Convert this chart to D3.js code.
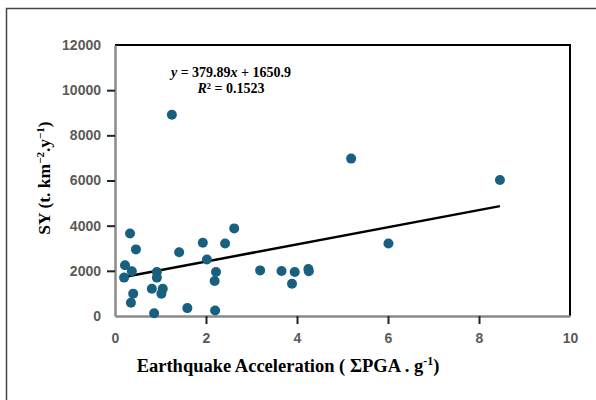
<!DOCTYPE html>
<html>
<head>
<meta charset="utf-8">
<title>SY vs Earthquake Acceleration</title>
<style type="text/css">
	body { margin: 0; background: #fff; }
	.tick text { font-family: Arial, "Liberation Sans", sans-serif; font-weight: bold; font-size: 14px; fill: #5a5a5a; }
	.lbl { font-family: "Times New Roman", "Liberation Serif", serif; font-weight: bold; fill: #000; }
</style>
<script src="https://cdn.jsdelivr.net/npm/d3@7/dist/d3.min.js"></script>
</head>
<body>
<div id="chart"></div>
<script type="text/javascript">
// values
var pgaValues = [0.33, 0.46, 0.22, 0.37, 0.20, 0.92, 0.92, 0.81, 1.05, 1.02, 0.40, 0.35, 0.86,
	1.41, 1.59, 1.93, 2.02, 2.22, 2.19, 2.20, 2.42, 2.62, 3.19, 3.66, 3.95, 3.89, 4.25, 4.26,
	1.25, 5.19, 6.01, 8.46];
var syValues = [3650, 2950, 2250, 1980, 1700, 1950, 1700, 1210, 1210, 990, 990, 590, 120,
	2820, 350, 3240, 2500, 1950, 1550, 240, 3210, 3880, 2020, 1990, 1950, 1430, 2080, 1980,
	8910, 6970, 3210, 6020];
var xTicks = [0, 2, 4, 6, 8, 10];
var yTicks = [0, 2000, 4000, 6000, 8000, 10000, 12000];
var fitSlope = 379.89, fitIntercept = 1650.9;

var W = 596, H = 400;
var margin = {left: 115, top: 45, right: 26, bottom: 84};

var svg = d3.select('#chart').append('svg')
		.attr('width', W)
		.attr('height', H);

// outer frame (runs off the right and bottom of the picture)
svg.append('rect')
		.attr('x', 6.5).attr('y', 8.5)
		.attr('width', W).attr('height', H)
		.attr('fill', 'none')
		.attr('stroke', '#444')
		.attr('stroke-width', 1.5);

var x = d3.scaleLinear().domain([0, 10]).range([margin.left, W - margin.right]);
var y = d3.scaleLinear().domain([0, 12000]).range([H - margin.bottom, margin.top]);

// top and right box edges
svg.append('path')
		.attr('d', 'M' + x(0) + ',' + y(12000) + 'H' + x(10) + 'V' + y(0))
		.attr('fill', 'none')
		.attr('stroke', '#000')
		.attr('stroke-width', 2);

var yAxis = svg.append('g')
		.attr('transform', 'translate(' + x(0) + ',0)')
		.call(d3.axisLeft(y).tickValues(yTicks).tickFormat(d3.format('d'))
			.tickSize(8).tickPadding(6).tickSizeOuter(0));
var xAxis = svg.append('g')
		.attr('transform', 'translate(0,' + y(0) + ')')
		.call(d3.axisBottom(x).tickValues(xTicks).tickFormat(d3.format('d'))
			.tickSize(8).tickPadding(6).tickSizeOuter(0));

[yAxis, xAxis].forEach(function(a){
	a.select('.domain').attr('stroke', '#8a8a8a').attr('stroke-width', 2.5);
	a.selectAll('.tick line').attr('stroke', '#222').attr('stroke-width', 2);
});
// first/last ticks sit on the box, no tick mark drawn there
xAxis.selectAll('.tick line').filter(function(d){ return d === 0 || d === 10; }).remove();
yAxis.selectAll('.tick line').filter(function(d){ return d === 0 || d === 12000; }).remove();
xAxis.selectAll('.tick text').attr('dy', '0.9em');

// regression line over the data range
var xExt = d3.extent(pgaValues);
svg.append('line')
		.attr('x1', x(xExt[0])).attr('y1', y(fitSlope * xExt[0] + fitIntercept))
		.attr('x2', x(xExt[1])).attr('y2', y(fitSlope * xExt[1] + fitIntercept))
		.attr('stroke', '#000')
		.attr('stroke-width', 2.5);

var pts = pgaValues.map(function(v, i){ return {x: v, y: syValues[i]}; });
svg.selectAll('.pt')
		.data(pts)
	.enter().append('circle')
		.attr('class', 'pt')
		.attr('cx', function(d){ return x(d.x); })
		.attr('cy', function(d){ return y(d.y); })
		.attr('r', 5)
		.attr('fill', '#17607f');

// equation text
var eq = svg.append('text').attr('class', 'lbl')
		.attr('x', 231).attr('y', 77)
		.attr('text-anchor', 'middle')
		.style('font-size', '14px');
eq.append('tspan').attr('font-style', 'italic').text('y');
eq.append('tspan').text(' = 379.89');
eq.append('tspan').attr('font-style', 'italic').text('x');
eq.append('tspan').text(' + 1650.9');

var r2 = svg.append('text').attr('class', 'lbl')
		.attr('x', 231).attr('y', 93)
		.attr('text-anchor', 'middle')
		.style('font-size', '14px');
r2.append('tspan').attr('font-style', 'italic').text('R');
r2.append('tspan').text('² = 0.1523');

// axis titles
var xt = svg.append('text').attr('class', 'lbl')
		.attr('x', 288).attr('y', 372)
		.attr('text-anchor', 'middle')
		.style('font-size', '18.5px');
xt.append('tspan').text('Earthquake Acceleration ( ΣPGA . g');
xt.append('tspan').attr('dy', -7).style('font-size', '12px').text('-1');
xt.append('tspan').attr('dy', 7).text(')');

var yt = svg.append('text').attr('class', 'lbl')
		.attr('transform', 'translate(50,178) rotate(-90)')
		.attr('text-anchor', 'middle')
		.style('font-size', '17.5px');
yt.append('tspan').text('SY (t. km');
yt.append('tspan').attr('dy', -6).style('font-size', '11px').text('−2');
yt.append('tspan').attr('dy', 6).text('.y');
yt.append('tspan').attr('dy', -6).style('font-size', '11px').text('−1');
yt.append('tspan').attr('dy', 6).text(')');
</script>
</body>
</html>
